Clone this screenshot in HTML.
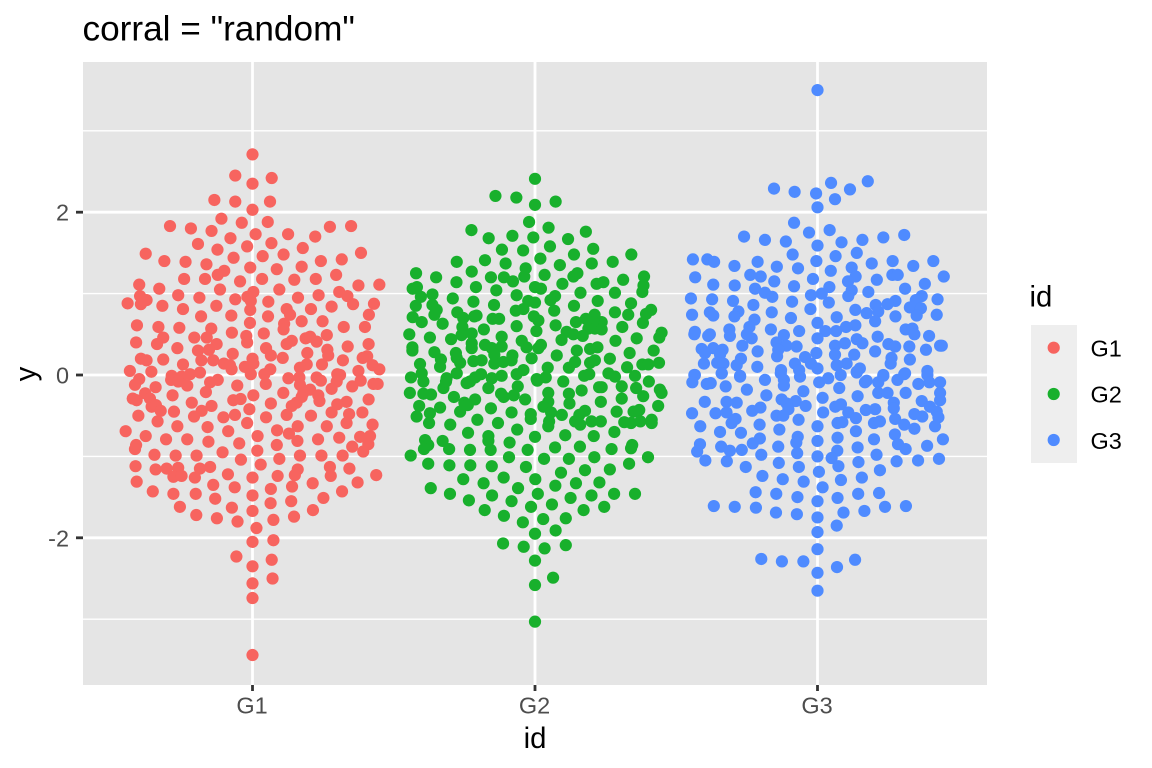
<!DOCTYPE html>
<html lang="en">
<head>
<meta charset="utf-8">
<title>corral = "random"</title>
<style>
html,body{margin:0;padding:0;background:#fff;}
svg{display:block;font-family:"Liberation Sans",Arial,sans-serif;}
</style>
</head>
<body>
<svg id="chart" xmlns="http://www.w3.org/2000/svg" width="1152" height="768" viewBox="0 0 1152 768">
  <rect x="0" y="0" width="1152" height="768" fill="#ffffff"/>
  <text x="82.5" y="40.5" font-size="35.2" fill="#000" id="title">corral = "random"</text>
  <rect x="83" y="62" width="904" height="623" fill="#e5e5e5"/>
  <g id="grid"></g>
  <g id="points"></g>
  <g id="axes"></g>
  <text x="535" y="748" text-anchor="middle" font-size="29.33" fill="#000">id</text>
  <text transform="translate(35.5,374) rotate(-90)" text-anchor="middle" font-size="29.33" fill="#000">y</text>
  <g>
    <text x="1029.5" y="306.5" font-size="29.33" fill="#000">id</text>
    <rect x="1031" y="325" width="46" height="138" fill="#eeeeee"/>
    <circle cx="1053.7" cy="347.7" r="6.1" fill="#f7645f"/>
    <circle cx="1053.7" cy="394" r="6.1" fill="#18b02c"/>
    <circle cx="1053.7" cy="440" r="6.1" fill="#4f8bff"/>
    <text x="1090.5" y="356.5" font-size="23.47" fill="#000">G1</text>
    <text x="1090.5" y="402.7" font-size="23.47" fill="#000">G2</text>
    <text x="1090.5" y="449" font-size="23.47" fill="#000">G3</text>
  </g>
</svg>
<script>
const categories = ["G1", "G2", "G3"];
const yTickLabels = [-2, 0, 2];
const yMinorTicks = [-3, -1, 1, 3];

const g1Values = [2.71,2.45,2.42,2.35,2.15,2.13,2.13,2.03,1.92,1.87,1.88,1.83,1.80,1.77,1.82,1.83,1.73,1.73,1.70,1.68,1.61,1.62,1.54,1.58,1.56,1.49,1.48,1.50,1.46,1.44,1.40,1.39,1.40,1.42,1.36,1.32,1.33,1.28,1.23,1.30,1.18,1.18,1.23,1.15,1.18,1.17,1.18,1.11,1.06,1.05,1.10,1.11,1.05,1.02,1.02,0.98,0.95,0.96,0.93,0.95,0.98,0.97,0.97,0.92,0.88,0.87,0.85,0.90,0.91,0.87,0.875,0.85,0.81,0.81,0.84,0.80,0.81,0.72,0.73,0.72,0.74,0.74,0.66,0.66,0.61,0.59,0.58,0.64,0.63,0.59,0.59,0.57,0.52,0.56,0.51,0.46,0.46,0.46,0.48,0.45,0.47,0.41,0.49,0.40,0.38,0.40,0.38,0.42,0.38,0.38,0.33,0.35,0.33,0.31,0.30,0.31,0.26,0.27,0.24,0.24,0.23,0.21,0.20,0.18,0.19,0.21,0.18,0.18,0.20,0.18,0.13,0.14,0.12,0.14,0.13,0.13,0.12,0.09,0.10,0.07,0.05,0.04,0.07,0.05,0.07,0.03,0.01,-0.01,-0.02,0.01,0.01,0.01,-0.05,
-0.12,-0.15,-0.06,-0.08,-0.13,-0.06,-0.09,-0.13,-0.11,-0.04,-0.03,-0.12,-0.03,-0.07,0.00,-0.08,-0.07,-0.14,-0.11,-0.11,-0.17,-0.18,-0.22,-0.22,-0.21,-0.25,-0.225,-0.29,-0.31,-0.25,-0.29,-0.27,-0.25,-0.32,-0.30,-0.31,-0.295,-0.34,-0.38,-0.35,-0.33,-0.36,-0.34,-0.38,-0.39,-0.37,-0.44,-0.42,-0.45,-0.44,-0.51,-0.49,-0.52,-0.46,-0.49,-0.50,-0.48,-0.46,-0.50,-0.57,-0.52,-0.59,-0.59,-0.63,-0.61,-0.63,-0.63,-0.64,-0.69,-0.69,-0.68,-0.75,-0.75,-0.72,-0.75,-0.76,-0.79,-0.79,-0.82,-0.77,-0.79,-0.81,-0.85,-0.86,-0.91,-0.84,-0.86,-0.88,-0.93,-0.95,-0.94,-0.98,-0.99,-0.99,-0.99,-0.99,-0.99,-1.04,-1.03,-1.12,-1.10,-1.13,-1.15,-1.16,-1.15,-1.14,-1.13,-1.15,-1.16,-1.31,-1.25,-1.24,-1.26,-1.22,-1.23,-1.24,-1.24,-1.23,-1.26,-1.35,-1.32,-1.38,-1.40,-1.37,-1.33,-1.43,-1.46,-1.46,-1.48,-1.43,-1.52,-1.51,-1.575,-1.55,-1.62,-1.63,-1.67,-1.66,-1.72,-1.76,-1.80,-1.78,-1.74,-1.88,-2.05,-2.03,-2.23,-2.35,-2.27,-2.56,-2.50,-2.74,-3.44];
const g1Offsets = [0,-.061,.068,0,-.135,-.061,.062,0,-.11,-.038,.054,-.292,-.218,-.145,.274,.349,.011,.126,.222,-.078,-.193,.067,-.124,-.019,.178,-.378,.11,.384,.036,-.067,-.312,-.237,.242,.316,-.163,-.008,.174,-.1,-.123,.086,-.242,-.168,.296,-.044,.034,.148,.224,-.401,-.33,-.115,.375,.449,.095,.003,.307,-.263,-.188,-.018,-.061,.161,.234,.336,-.398,-.375,-.442,-.395,-.319,.056,-.006,.356,.43,-.128,-.246,.207,.28,-.008,.121,-.182,-.075,.055,.133,.412,.174,.248,-.409,-.333,-.259,-.009,.112,.323,.398,-.146,-.073,.11,.04,-.316,-.206,-.162,-.022,.188,.204,.227,.263,-.412,-.338,-.019,-.127,.139,.121,.411,-.266,.337,.048,.265,-.193,-.154,-.07,.194,.065,.268,.406,.39,-.395,-.375,-.316,.107,-.181,-.139,0,.32,-.246,-.101,-.08,.003,.192,.246,.425,.168,-.027,-.074,-.434,-.358,.449,.375,.063,-.186,-.221,-.286,-.251,-.006,.042,.3,-.401,
-.416,-.343,-.288,-.263,-.231,-.123,-.15,-.054,.047,.127,.166,.168,.227,.242,.31,.298,.383,.353,.428,.443,.28,.204,.18,.109,-.165,.003,-.38,-.424,-.41,-.283,-.363,.174,.233,.237,.411,-.068,-.042,-.215,-.145,.065,.333,.3,.156,.139,-.357,-.342,-.325,-.011,-.278,-.18,-.207,-.062,-.103,.28,.121,.207,.342,.389,-.404,-.336,.048,-.019,.333,.263,.425,.16,-.266,-.159,-.449,-.086,.087,-.378,.018,.129,.416,.381,-.306,-.231,-.156,.307,.232,.159,.41,-.412,-.416,-.047,.086,.353,.017,-.106,.392,-.347,-.272,-.198,.168,.244,.319,-.041,.095,-.414,.029,-.15,-.186,-.343,-.304,-.263,.274,.343,.16,-.41,-.28,-.251,-.204,-.087,.15,.089,.277,.438,0,-.139,.372,-.063,.065,.14,.213,-.353,-.28,-.201,0,.317,-.132,.251,.064,.137,-.257,-.073,0,.214,-.199,-.126,-.053,.074,.147,.014,0,.074,-.057,0,.068,0,.071,0,0];

const g2Values = [2.41,2.20,2.18,2.09,2.13,1.88,1.81,1.78,1.68,1.71,1.69,1.76,1.67,1.58,1.54,1.53,1.55,1.48,1.48,1.39,1.41,1.43,1.39,1.37,1.37,1.35,1.25,1.27,1.31,1.21,1.20,1.20,1.20,1.23,1.21,1.25,1.21,1.14,1.15,1.12,1.12,1.14,1.17,1.08,1.10,1.08,1.06,1.08,1.06,1.04,1.01,1.01,1.02,0.99,0.98,0.96,0.94,0.97,0.92,0.90,0.91,0.91,0.89,0.85,0.86,0.85,0.88,0.86,0.80,0.81,0.79,0.79,0.77,0.80,0.75,0.77,0.74,0.74,0.74,0.71,0.70,0.73,0.72,0.69,0.69,0.72,0.67,0.65,0.63,0.65,0.69,0.65,0.64,0.65,0.60,0.61,0.59,0.59,0.56,0.57,0.57,0.56,0.54,0.50,0.49,0.51,0.53,0.50,0.48,0.52,0.46,0.46,0.44,0.47,0.43,0.42,0.45,0.42,0.39,0.37,0.37,0.33,0.33,0.35,0.33,0.34,0.34,0.30,0.30,0.32,0.34,0.28,0.27,0.30,0.27,0.25,0.24,0.24,0.21,0.19,0.205,0.20,0.10,0.135,0.17,0.18,0.14,0.16,0.18,0.18,0.16,0.15,0.15,0.13,0.13,0.15,0.09,0.095,0.09,0.06,0.01,0.02,0.02,0.02,-0.03,0.01,-0.01,-0.04,-0.03,-0.04,0.01,-0.01,-0.01,-0.02,-0.05,-0.03,-0.08,-0.08,
-0.08,-0.16,-0.08,-0.10,-0.08,-0.16,-0.14,-0.07,-0.19,-0.15,-0.15,-0.14,-0.29,-0.16,-0.26,-0.18,-0.22,-0.38,-0.22,-0.23,-0.24,-0.27,-0.23,-0.27,-0.25,-0.30,-0.22,-0.33,-0.23,-0.35,-0.33,-0.30,-0.34,-0.37,-0.38,-0.40,-0.41,-0.39,-0.45,-0.46,-0.48,-0.54,-0.46,-0.49,-0.44,-0.49,-0.45,-0.45,-0.43,-0.51,-0.47,-0.59,-0.55,-0.61,-0.59,-0.57,-0.63,-0.57,-0.61,-0.57,-0.57,-0.58,-0.59,-0.57,-0.55,-0.59,-0.67,-0.71,-0.70,-0.75,-0.76,-0.74,-0.75,-0.80,-0.86,-0.91,-0.81,-0.91,-0.81,-0.83,-0.92,-0.92,-0.92,-0.89,-0.88,-0.91,-0.86,-0.90,-0.99,-1.01,-1.03,-1.03,-1.01,-1.01,-1.09,-1.11,-1.11,-1.12,-1.13,-1.09,-1.17,-1.16,-1.20,-1.28,-1.26,-1.28,-1.33,-1.33,-1.32,-1.36,-1.39,-1.39,-1.46,-1.46,-1.46,-1.46,-1.48,-1.48,-1.54,-1.51,-1.55,-1.62,-1.59,-1.66,-1.62,-1.66,-1.73,-1.77,-1.76,-1.81,-1.91,-1.95,-2.07,-2.11,-2.13,-2.09,-2.28,-2.49,-2.58,-3.03];
const g2Offsets = [0,-.14,-.066,0,.073,-.021,.048,-.225,-.164,-.08,-.006,.18,.117,.053,-.117,-.042,.206,.138,.341,-.277,-.177,.019,.275,.201,-.104,.088,-.421,-.224,-.033,-.038,-.35,-.156,-.11,.034,.136,.15,.386,-.278,-.078,.097,.218,.242,.312,-.209,.384,-.418,-.433,0,.021,-.137,.161,.283,.38,-.363,-.065,-.404,-.291,.071,.055,-.218,.222,-.024,0,-.422,-.145,.138,.34,-.363,-.348,-.041,-.068,.068,-.275,.411,.393,.283,.33,-.356,.211,-.433,-.254,-.207,-.215,-.15,-.127,-.004,.012,-.401,-.327,.145,.18,.236,.382,.208,-.065,.073,.309,-.257,-.181,.189,.212,.236,.005,-.445,-.26,-.224,.112,.136,.169,.448,.44,-.372,-.297,-.118,.094,.285,.36,-.047,-.224,-.177,.021,-.224,-.153,-.118,.012,-.03,-.434,-.434,.148,.195,.221,-.356,-.28,.42,.335,-.144,-.08,.077,-.277,-.333,-.012,.265,-.336,-.407,-.218,-.189,-.144,-.112,-.083,.212,.142,.195,-.265,.38,.401,.439,.12,.326,.045,-.041,-.065,-.277,.26,-.401,-.439,-.191,-.118,-.313,-.212,-.153,.192,.174,.354,.283,.006,.038,.1,.403,
-.395,-.324,-.315,-.242,-.23,-.165,-.061,.008,.165,.227,.236,.307,.307,.358,.383,.442,.448,.436,-.443,-.395,-.368,-.287,-.12,-.111,-.075,-.035,.047,.047,.12,.122,.233,-.212,-.25,-.238,-.41,-.336,-.156,.03,-.265,-.083,-.015,-.015,.057,.095,.177,.157,.289,.349,.369,-.419,-.372,-.375,-.204,-.3,-.131,.05,.047,.142,.16,.2,.233,.316,.34,.373,.413,.413,-.063,-.237,.281,-.165,0,.107,.208,-.389,-.378,-.393,-.327,-.304,-.165,-.09,-.23,-.157,-.026,.071,.159,.271,.344,.34,-.44,-.092,.032,.12,.21,.4,-.378,-.303,-.229,-.153,-.032,.333,.177,.265,.092,-.254,-.111,.001,-.182,.145,.228,.072,-.369,-.06,-.301,.01,.28,.354,-.152,.2,-.234,.126,-.083,-.014,.06,-.178,.245,.172,-.11,.029,.109,-.043,.073,0,-.113,-.04,.034,.109,0,.064,0,0];

const g3Values = [3.50,2.29,2.25,2.23,2.36,2.28,2.38,2.16,2.06,1.87,1.75,1.78,1.70,1.66,1.64,1.69,1.72,1.66,1.63,1.59,1.48,1.46,1.50,1.42,1.42,1.39,1.39,1.40,1.34,1.33,1.37,1.40,1.34,1.40,1.31,1.32,1.28,1.20,1.23,1.21,1.15,1.18,1.21,1.15,1.17,1.23,1.23,1.21,1.11,1.10,1.09,1.12,1.06,1.01,0.96,1.08,1.00,0.98,1.04,0.97,1.02,1.06,0.94,0.93,0.91,0.90,0.89,0.91,0.87,0.97,0.92,0.93,0.86,0.81,0.86,0.78,0.72,0.77,0.77,0.73,0.74,0.80,0.76,0.78,0.83,0.82,0.71,0.72,0.73,0.74,0.70,0.68,0.64,0.66,0.59,0.56,0.56,0.53,0.50,0.61,0.59,0.54,0.54,0.54,0.56,0.57,0.50,0.50,0.48,0.48,0.50,0.45,0.49,0.45,0.48,0.47,0.44,0.39,0.38,0.35,0.35,0.36,0.36,0.31,0.39,0.36,0.40,0.36,0.35,0.36,0.32,0.33,0.31,0.29,0.29,0.27,0.25,0.25,0.31,0.23,0.27,0.25,0.20,0.22,0.19,0.21,0.14,0.14,0.15,0.14,0.14,0.14,0.14,0.10,0.12,0.08,0.12,0.08,0.04,0.06,0.06,0.05,0.02,0.00,0.02,-0.01,0.00,
0.00,-0.09,-0.11,-0.10,-0.14,0.02,-0.06,-0.02,-0.18,-0.06,-0.13,-0.02,0.02,-0.09,-0.04,0.00,-0.16,-0.09,-0.07,0.03,-0.01,-0.09,-0.06,0.01,0.00,-0.11,-0.09,-0.09,-0.20,-0.25,-0.28,-0.26,-0.22,-0.22,-0.22,-0.22,-0.31,-0.33,-0.33,-0.34,-0.30,-0.32,-0.38,-0.35,-0.42,-0.34,-0.41,-0.32,-0.39,-0.36,-0.39,-0.47,-0.47,-0.46,-0.44,-0.40,-0.50,-0.50,-0.46,-0.46,-0.43,-0.42,-0.45,-0.52,-0.48,-0.51,-0.53,-0.59,-0.54,-0.55,-0.54,-0.59,-0.58,-0.59,-0.57,-0.63,-0.61,-0.63,-0.61,-0.66,-0.63,-0.70,-0.71,-0.67,-0.69,-0.73,-0.76,-0.77,-0.79,-0.79,-0.78,-0.84,-0.85,-0.94,-0.88,-0.81,-0.83,-0.85,-0.88,-0.89,-0.91,-0.87,-0.93,-0.92,-0.96,-0.93,-0.98,-1.00,-0.98,-1.02,-1.05,-1.06,-1.07,-1.06,-1.05,-1.03,-1.08,-1.12,-1.13,-1.13,-1.19,-1.17,-1.24,-1.28,-1.31,-1.29,-1.26,-1.38,-1.44,-1.46,-1.46,-1.45,-1.50,-1.51,-1.55,-1.61,-1.62,-1.63,-1.62,-1.61,-1.69,-1.71,-1.69,-1.67,-1.75,-1.85,-1.93,-2.14,-2.26,-2.29,-2.29,-2.27,-2.36,-2.43,-2.65];
const g3Offsets = [0,-.154,-.081,-.005,.048,.115,.178,.062,0,-.083,-.03,.043,-.26,-.186,-.112,.233,.307,.159,.085,0,-.088,.064,.139,-.441,-.39,-.366,-.212,-.004,-.294,-.144,.192,.266,.339,.41,-.069,.121,.047,-.433,-.238,-.201,-.153,-.016,.135,.108,.21,.265,.284,.447,-.369,-.293,-.083,.38,-.221,-.186,-.16,.042,.015,-.023,.121,.109,.18,.31,-.448,-.373,-.299,-.09,.04,.276,.248,.369,.348,.425,-.227,-.025,.206,-.28,-.294,-.162,-.381,-.369,-.444,.134,.174,.215,.327,.366,.068,.276,.351,.422,-.094,-.223,0,.204,-.241,-.165,-.312,-.434,-.436,.134,.101,.066,.028,-.065,.312,.336,.343,-.381,-.387,-.31,-.25,-.233,-.119,0,.395,.213,.139,.159,.251,.275,.325,.44,.434,.384,.097,.062,-.145,-.11,-.074,-.266,-.41,-.369,-.336,-.212,.204,-.004,.062,.13,-.139,-.143,-.398,-.345,-.271,-.044,.327,.262,.259,-.402,-.355,-.333,-.08,-.023,.103,-.213,-.286,0,.068,.15,.139,-.129,-.065,.389,.31,-.434,-.339,-.274,.233,
-.436,-.443,-.392,-.378,-.325,-.339,-.186,-.274,-.25,-.119,-.119,-.062,-.13,.006,.038,.082,.077,.168,.174,.139,.233,.215,.283,.307,.389,.357,.396,.434,-.05,-.181,.018,.142,.215,.248,.312,.434,.434,-.399,-.322,-.286,-.127,-.077,-.042,-.109,-.103,.27,.27,.369,.063,.083,.398,-.444,-.361,-.322,-.231,-.202,-.145,-.121,.02,.109,.171,.204,.422,.428,.343,.371,.136,-.304,-.29,-.067,.275,.071,.088,.2,.221,-.415,-.205,0,.307,.343,.416,-.345,-.271,-.135,.136,.274,-.07,.071,.2,.444,-.204,-.229,-.416,-.426,-.341,0,-.075,.285,-.139,.142,.312,.388,-.31,-.268,-.072,.07,-.199,0,.209,.05,-.397,-.321,.145,.28,.356,.43,-.137,.074,-.254,-.066,.005,.221,-.195,-.123,-.049,.083,.157,.018,-.219,-.146,.144,.218,-.071,.071,0,-.367,-.293,-.218,.239,.313,-.147,-.073,.092,.166,0,.068,0,0,-.199,-.126,-.05,.133,.069,0,0];

const SVG_NS = "http://www.w3.org/2000/svg";
const xScale = function (i) { return 252.5 + 282.5 * i; };
const yScale = function (v) { return 375 - 81.4 * v; };
const grid = document.getElementById("grid");
const axes = document.getElementById("axes");
const pointsLayer = document.getElementById("points");

function makeLine(parent, x1, y1, x2, y2, stroke, width) {
  const l = document.createElementNS(SVG_NS, "line");
  l.setAttribute("x1", x1);
  l.setAttribute("y1", y1);
  l.setAttribute("x2", x2);
  l.setAttribute("y2", y2);
  l.setAttribute("stroke", stroke);
  l.setAttribute("stroke-width", width);
  parent.appendChild(l);
  return l;
}
function makeText(parent, x, y, str, anchor) {
  const t = document.createElementNS(SVG_NS, "text");
  t.setAttribute("x", x);
  t.setAttribute("y", y);
  t.setAttribute("text-anchor", anchor);
  t.setAttribute("font-size", "23.47");
  t.setAttribute("fill", "#4d4d4d");
  t.textContent = str;
  parent.appendChild(t);
  return t;
}

yMinorTicks.forEach(function (v) {
  const g = makeLine(grid, 83, yScale(v), 987, yScale(v), "#ffffff", 1.4);
  
  
});
yTickLabels.forEach(function (v) {
  const g = makeLine(grid, 83, yScale(v), 987, yScale(v), "#ffffff", 2.8);
  
  
  const tick = makeLine(axes, 76, yScale(v), 83, yScale(v), "#333333", 2.8);
  
  
  const label = makeText(axes, 69, yScale(v) + 8.5, String(v), "end");
  
  
});
categories.forEach(function (c, i) {
  const g = makeLine(grid, xScale(i), 62, xScale(i), 685, "#ffffff", 2.8);
  
  
  const tick = makeLine(axes, xScale(i), 685, xScale(i), 691, "#333333", 2.8);
  
  
  const label = makeText(axes, xScale(i) - 0.5, 713.5, c, "middle");
  
  
});

function drawSeries(index, values, offsets, color) {
  values.forEach(function (v, j) {
    const c = document.createElementNS(SVG_NS, "circle");
    
    
    c.setAttribute("cx", xScale(index + (offsets[j] || 0)));
    c.setAttribute("cy", yScale(v));
    c.setAttribute("r", 6.1);
    c.setAttribute("fill", color);
    pointsLayer.appendChild(c);
  });
}
drawSeries(0, g1Values, g1Offsets, "#f7645f");
drawSeries(1, g2Values, g2Offsets, "#18b02c");
drawSeries(2, g3Values, g3Offsets, "#4f8bff");
</script>
</body>
</html>
